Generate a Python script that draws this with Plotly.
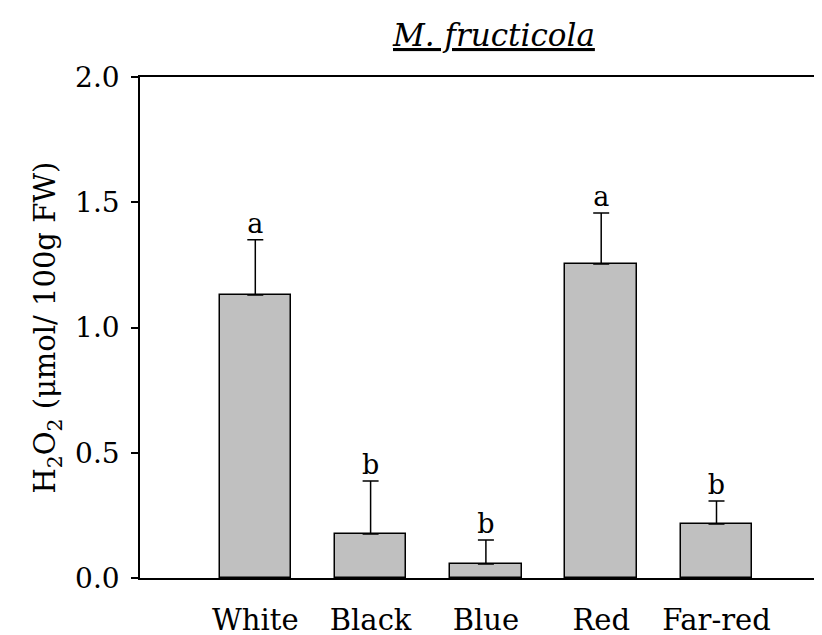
import plotly.graph_objects as go

categories = ["White", "Black", "Blue", "Red", "Far-red"]
means = [1.13, 0.176, 0.056, 1.253, 0.216]
errors = [0.22, 0.211, 0.096, 0.204, 0.091]
letters = ["a", "b", "b", "a", "b"]
positions = [1, 2, 3, 4, 5]
y_ticks = [0.0, 0.5, 1.0, 1.5, 2.0]

FONT = "DejaVu Serif"
tops = [m + e for m, e in zip(means, errors)]

fig = go.Figure()
fig.add_trace(go.Bar(
    x=positions, y=means, width=0.62,
    marker=dict(color="#c0c0c0", line=dict(color="black", width=1.5)),
    error_y=dict(type="data", array=errors, arrayminus=[0]*len(errors),
                 symmetric=False, color="black", thickness=1.5, width=8),
    showlegend=False,
))
fig.add_trace(go.Scatter(
    x=positions, y=tops, mode="text", text=letters,
    textposition="top center",
    textfont=dict(family=FONT, size=27, color="black"),
    showlegend=False, cliponaxis=False,
))

fig.update_layout(
    width=822, height=635,
    margin=dict(l=132, r=8, t=69, b=65),
    plot_bgcolor="white", paper_bgcolor="white",
    font=dict(family=FONT, color="black"),
    bargap=0,
    annotations=[
        dict(text="<i><u>M. fructicola</u></i>", x=0.5176, xref="paper",
             y=1.0838, yref="paper", yanchor="middle", showarrow=False,
             font=dict(family=FONT, size=31, color="black")),
        dict(text="H<sub>2</sub>O<sub>2</sub> (μmol/ 100g FW)",
             x=-0.1364, xref="paper", y=0.5, yref="paper",
             xanchor="center", yanchor="middle", textangle=-90,
             showarrow=False, font=dict(family=FONT, size=29, color="black")),
    ],
)

fig.update_xaxes(
    range=[0, 5.915], tickvals=positions, ticktext=categories,
    showline=True, linecolor="black", linewidth=1.5, mirror=True,
    ticks="", showgrid=False, zeroline=False, automargin=False,
    tickfont=dict(family=FONT, size=29, color="black"),
    ticklabelstandoff=15,
)
fig.update_yaxes(
    range=[0, 2.0], tickvals=y_ticks, ticktext=[f"{v:.1f}" for v in y_ticks],
    showline=True, linecolor="black", linewidth=1.5,
    ticks="outside", ticklen=7, tickwidth=1.5, tickcolor="black",
    showgrid=False, zeroline=False, automargin=False,
    tickfont=dict(family=FONT, size=28, color="black"),
    ticklabelstandoff=6,
)

fig.write_html("out.html")
